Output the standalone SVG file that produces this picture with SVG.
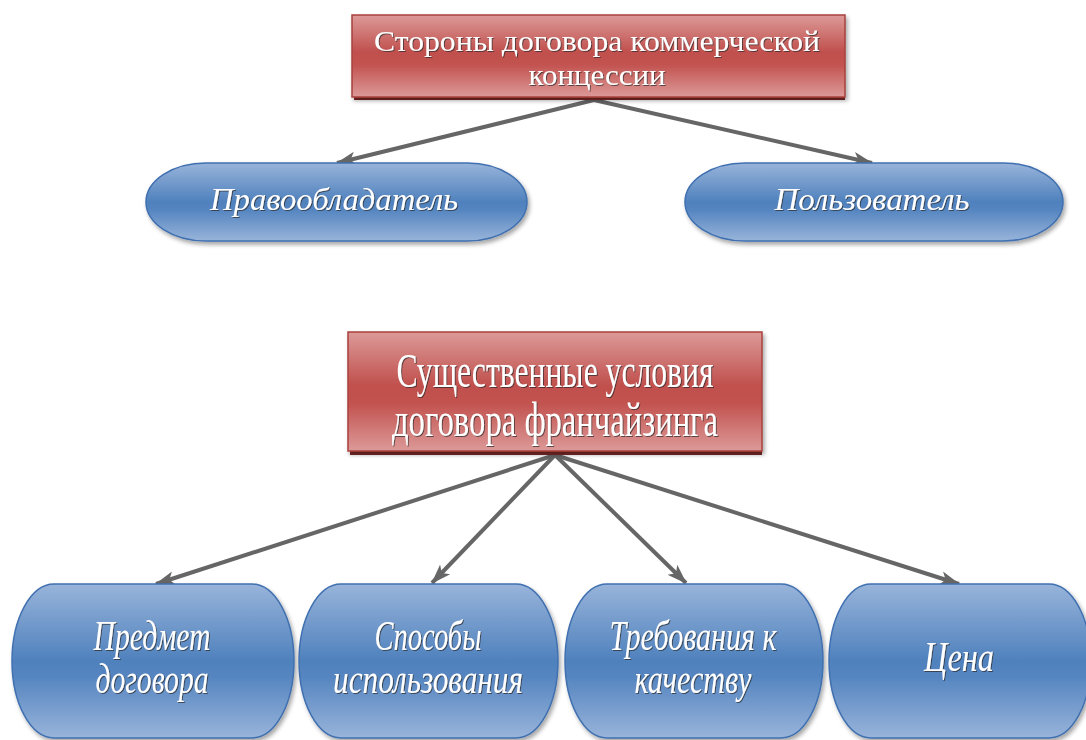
<svg xmlns="http://www.w3.org/2000/svg" width="1086" height="740" viewBox="0 0 1086 740">
<defs>
  <linearGradient id="gRed" x1="0" y1="0" x2="0" y2="1">
    <stop offset="0" stop-color="#dc9a98"/>
    <stop offset="0.45" stop-color="#c0504d"/>
    <stop offset="0.6" stop-color="#c2524f"/>
    <stop offset="1" stop-color="#dc9a98"/>
  </linearGradient>
  <linearGradient id="gBlue" x1="0" y1="0" x2="0" y2="1">
    <stop offset="0" stop-color="#98b4da"/>
    <stop offset="0.5" stop-color="#4f81bd"/>
    <stop offset="0.6" stop-color="#5585c0"/>
    <stop offset="1" stop-color="#98b4da"/>
  </linearGradient>
  <filter id="shadow" x="-10%" y="-10%" width="120%" height="130%">
    <feDropShadow dx="2" dy="3" stdDeviation="2" flood-color="#000" flood-opacity="0.35"/>
  </filter>
  <filter id="tshadow" x="-5%" y="-20%" width="110%" height="140%">
    <feDropShadow dx="1" dy="1" stdDeviation="0.6" flood-color="#2a2a2a" flood-opacity="0.7"/>
  </filter>
  <marker id="arrow" markerUnits="userSpaceOnUse" markerWidth="20" markerHeight="16" viewBox="0 0 20 16" refX="19" refY="8" orient="auto">
    <path d="M0,1 L20,8 L0,15 L5,8 Z" fill="#666666"/>
  </marker>
  <style>
    .red { fill: url(#gRed); stroke: #a8403d; stroke-width: 1.5; filter: url(#shadow); }
    .redbase { fill: #7e2a28; }
    .blue { fill: url(#gBlue); stroke: #4070b0; stroke-width: 1.5; filter: url(#shadow); }
    .conn { stroke: #666666; stroke-width: 4; fill: none; marker-end: url(#arrow); }
    .t { fill: #ffffff; font-family: "Liberation Serif", "DejaVu Serif", serif; text-anchor: middle; filter: url(#tshadow); }
    .t1 { font-size: 30px; }
    .t2 { font-size: 32px; font-style: italic; }
    .t3 { font-size: 48px; }
    .t4 { font-size: 42px; font-style: italic; }
  </style>
</defs>
<rect width="1086" height="740" fill="#ffffff"/>

<g id="connectors">
  <line class="conn" x1="594" y1="100" x2="337" y2="163"/>
  <line class="conn" x1="594" y1="100" x2="872" y2="163"/>
  <line class="conn" x1="555" y1="455" x2="156" y2="584"/>
  <line class="conn" x1="555" y1="455" x2="432" y2="583"/>
  <line class="conn" x1="555" y1="455" x2="686" y2="583"/>
  <line class="conn" x1="555" y1="455" x2="959" y2="584"/>
</g>

<g id="node-storony">
  <rect class="redbase" x="354" y="96" width="491" height="4"/>
  <rect class="red" x="352" y="15" width="493" height="82"/>
  <text class="t t1" x="597" y="51" textLength="446" lengthAdjust="spacingAndGlyphs">Стороны договора коммерческой</text>
  <text class="t t1" x="597" y="85" textLength="137" lengthAdjust="spacingAndGlyphs">концессии</text>
</g>

<g id="node-pravoobladatel">
  <rect class="blue" x="146" y="163" width="381" height="78" rx="60" ry="39"/>
  <text class="t t2" x="334" y="210" textLength="248" lengthAdjust="spacingAndGlyphs">Правообладатель</text>
</g>

<g id="node-polzovatel">
  <rect class="blue" x="685" y="163" width="378" height="78" rx="60" ry="39"/>
  <text class="t t2" x="872" y="210" textLength="195" lengthAdjust="spacingAndGlyphs">Пользователь</text>
</g>

<g id="node-usloviya">
  <rect class="redbase" x="350" y="450" width="412" height="5"/>
  <rect class="red" x="348" y="332" width="414" height="119"/>
  <text class="t t3" x="555" y="387" textLength="317" lengthAdjust="spacingAndGlyphs">Существенные условия</text>
  <text class="t t3" x="555" y="436" textLength="326" lengthAdjust="spacingAndGlyphs">договора франчайзинга</text>
</g>

<g id="node-predmet">
  <rect class="blue" x="12" y="584" width="282" height="154" rx="42" ry="77"/>
  <text class="t t4" x="152" y="650" textLength="117" lengthAdjust="spacingAndGlyphs">Предмет</text>
  <text class="t t4" x="152" y="693" textLength="113" lengthAdjust="spacingAndGlyphs">договора</text>
</g>

<g id="node-sposoby">
  <rect class="blue" x="299" y="584" width="259" height="154" rx="42" ry="77"/>
  <text class="t t4" x="428" y="650" textLength="107" lengthAdjust="spacingAndGlyphs">Способы</text>
  <text class="t t4" x="428" y="693" textLength="190" lengthAdjust="spacingAndGlyphs">использования</text>
</g>

<g id="node-trebovaniya">
  <rect class="blue" x="565" y="584" width="258" height="154" rx="42" ry="77"/>
  <text class="t t4" x="693" y="650" textLength="167" lengthAdjust="spacingAndGlyphs">Требования к</text>
  <text class="t t4" x="693" y="693" textLength="117" lengthAdjust="spacingAndGlyphs">качеству</text>
</g>

<g id="node-tsena">
  <rect class="blue" x="829" y="584" width="262" height="154" rx="42" ry="77"/>
  <text class="t t4" x="959" y="671" textLength="70" lengthAdjust="spacingAndGlyphs">Цена</text>
</g>
</svg>
